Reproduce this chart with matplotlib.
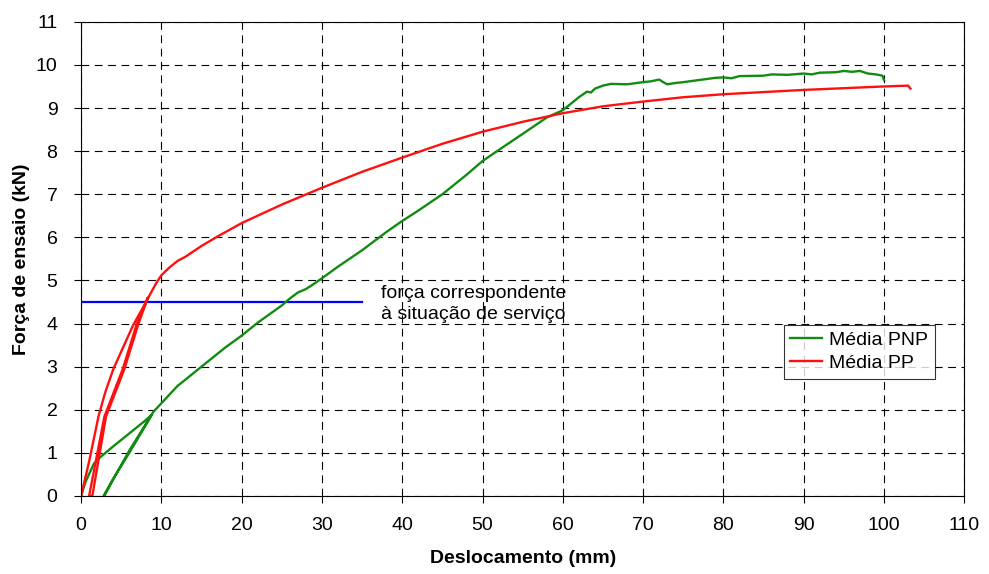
import matplotlib
matplotlib.use("Agg")
import matplotlib.pyplot as plt

plt.rcParams['font.family'] = ['Liberation Sans', 'DejaVu Sans']

# Média PNP (green) - load, unload, reload, then to failure
pnp_x = [0, 0.5, 1.1, 1.6, 2.4, 4, 6, 8, 8.8,
         6, 4, 2.8,
         2.9, 4.2, 6, 8, 9, 10, 12, 15, 18, 20, 22, 25, 26, 27, 28, 29, 30,
         32, 35, 38, 40, 42, 45, 48, 50, 53, 55, 58, 60, 61, 62, 63, 63.5, 64,
         65, 66, 68, 70, 71, 72, 72.5, 73, 74, 75, 77, 79, 80, 81, 82, 85,
         86, 88, 90, 91, 92, 94, 95, 96, 97, 98, 99, 99.8, 100]
pnp_y = [0, 0.3, 0.55, 0.75, 0.9, 1.15, 1.45, 1.75, 1.88,
         1.0, 0.4, 0.0,
         0.0, 0.45, 1.05, 1.65, 1.95, 2.15, 2.55, 3.0, 3.45, 3.72, 4.02, 4.42, 4.58, 4.72, 4.8, 4.92, 5.05,
         5.32, 5.7, 6.12, 6.38, 6.62, 7.0, 7.45, 7.77, 8.15, 8.4, 8.78, 8.95, 9.1, 9.25, 9.38, 9.36, 9.45,
         9.52, 9.56, 9.55, 9.6, 9.62, 9.66, 9.6, 9.55, 9.58, 9.6, 9.65, 9.7, 9.71, 9.69, 9.74, 9.75,
         9.78, 9.77, 9.8, 9.78, 9.82, 9.83, 9.86, 9.84, 9.86, 9.8, 9.78, 9.75, 9.65]

# Média PP (red) - load, unload, reload, then to failure
pp_x = [0, 1, 2.16, 3, 4.03, 5, 6.5, 8.1, 8.3,
        7.1, 5.4, 3.1, 1.4,
        1.0, 2.9, 5.2, 6.9, 8.1, 8.8, 9.4, 10, 11, 12, 13, 15, 17, 20, 25, 30,
        35, 40, 45, 50, 55, 60, 65, 70, 75, 80, 85, 90, 95, 100, 103, 103.3]
pp_y = [0, 0.8, 1.84, 2.4, 2.95, 3.35, 3.97, 4.5, 4.6,
        3.97, 2.95, 1.84, 0.0,
        0.0, 1.84, 2.95, 3.97, 4.5, 4.75, 4.95, 5.12, 5.3, 5.45, 5.55, 5.8, 6.02, 6.33, 6.76, 7.15,
        7.52, 7.85, 8.17, 8.45, 8.68, 8.88, 9.04, 9.15, 9.25, 9.32, 9.37, 9.42, 9.46, 9.5, 9.52, 9.45]

service_x = [0, 35]
service_y = [4.5, 4.5]

fig, ax = plt.subplots(figsize=(9.89, 5.74), dpi=100)
fig.subplots_adjust(left=0.082, right=0.975, top=0.962, bottom=0.136)

ax.plot(service_x, service_y, color='#0000ff', lw=1.6)
ax.plot(pnp_x, pnp_y, color='#118c11', lw=1.7, label='Média PNP')
ax.plot(pp_x, pp_y, color='#ff1010', lw=1.7, label='Média PP')

ax.text(37.4, 4.45, 'força correspondente\nà situação de serviço', fontsize=14,
        va='center', ha='left', linespacing=1.3)

ax.set_xlim(0, 110)
ax.set_ylim(0, 11)
ax.set_xticks(range(0, 111, 10))
ax.set_yticks(range(0, 12))
ax.grid(True, color='black', linestyle=(0, (7, 5)), lw=0.8)
ax.tick_params(direction='out', labelsize=14, length=5)
ax.tick_params(axis='x', pad=10)
ax.tick_params(axis='y', pad=12)

ax.set_xlabel('Deslocamento (mm)', fontsize=14, fontweight='bold', labelpad=12)
ax.set_ylabel('Força de ensaio (kN)', fontsize=14, fontweight='bold', labelpad=4)

leg = ax.legend(loc='upper left', bbox_to_anchor=(87.5, 3.97), bbox_transform=ax.transData,
                fontsize=14, frameon=True, fancybox=False, handlelength=1.6,
                handletextpad=0.4, borderpad=0.35, labelspacing=0.25, borderaxespad=0)
leg.get_frame().set_edgecolor('black')
leg.get_frame().set_linewidth(0.8)

fig.savefig('out.png', dpi=100)
